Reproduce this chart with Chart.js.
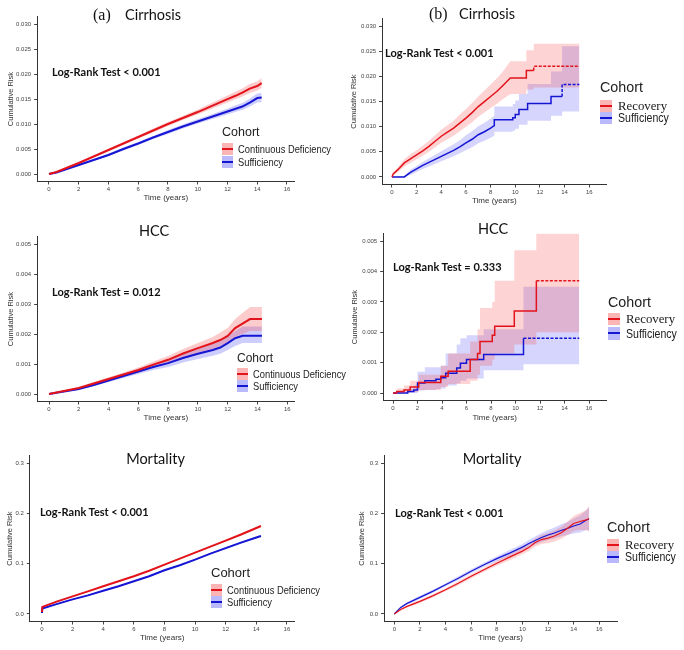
<!DOCTYPE html>
<html>
<head>
<meta charset="utf-8">
<script src="https://cdn.jsdelivr.net/npm/chart.js@4.4.0/dist/chart.umd.min.js"></script>
<style>
body{margin:0;background:#fff;}
#fig{position:relative;width:684px;height:650px;overflow:hidden;font-family:"Liberation Sans",Arial,sans-serif;color:#1a1a1a;}
canvas{position:absolute;}
.t{position:absolute;white-space:nowrap;line-height:1;transform-origin:left center;}
.sw{position:absolute;}
.sw i{position:absolute;left:0;right:0;height:2px;}
</style>
</head>
<body>
<div id="fig"></div>
<script>
// tick labels
const xTicks = [0, 2, 4, 6, 8, 10, 12, 14, 16];
const cirrTicks = [0, 0.005, 0.010, 0.015, 0.020, 0.025, 0.030];
const hccTicks = [0, 0.001, 0.002, 0.003, 0.004, 0.005];
const mortTicks = [0, 0.1, 0.2, 0.3];

// (a) Cirrhosis : Continuous Deficiency vs Sufficiency
const aCirTime = [0, 0.5, 1, 2, 3, 4, 5, 6, 7, 8, 9, 10, 11, 12, 12.5, 13, 13.5, 14, 14.3];
const aCirDef = [0, 0.0004, 0.0010, 0.0022, 0.0035, 0.0048, 0.0061, 0.0074, 0.0087, 0.0100, 0.0112, 0.0124, 0.0137, 0.0150, 0.0156, 0.0163, 0.0171, 0.0176, 0.0182];
const aCirDefLo = [0, 0.0003, 0.0009, 0.0020, 0.0033, 0.0045, 0.0058, 0.0071, 0.0083, 0.0096, 0.0108, 0.0119, 0.0131, 0.0143, 0.0149, 0.0155, 0.0162, 0.0167, 0.0172];
const aCirDefHi = [0, 0.0005, 0.0011, 0.0024, 0.0037, 0.0051, 0.0064, 0.0077, 0.0091, 0.0104, 0.0116, 0.0129, 0.0143, 0.0157, 0.0164, 0.0171, 0.0180, 0.0185, 0.0192];
const aCirSuf = [0, 0.0003, 0.0008, 0.0018, 0.0028, 0.0038, 0.0050, 0.0061, 0.0073, 0.0084, 0.0095, 0.0105, 0.0115, 0.0125, 0.0130, 0.0135, 0.0143, 0.0152, 0.0153];
const aCirSufLo = [0, 0.0002, 0.0007, 0.0016, 0.0026, 0.0036, 0.0047, 0.0058, 0.0070, 0.0080, 0.0091, 0.0101, 0.0110, 0.0119, 0.0124, 0.0128, 0.0135, 0.0143, 0.0144];
const aCirSufHi = [0, 0.0004, 0.0009, 0.0020, 0.0030, 0.0041, 0.0053, 0.0064, 0.0076, 0.0088, 0.0099, 0.0110, 0.0120, 0.0131, 0.0137, 0.0142, 0.0151, 0.0161, 0.0162];

// (a) HCC
const aHccTime = [0, 1, 2, 3, 4, 5, 6, 7, 8, 9, 10, 11, 11.5, 12, 12.5, 13, 13.5, 14, 14.3];
const aHccDef = [0, 0.0001, 0.0002, 0.00035, 0.0005, 0.00065, 0.0008, 0.00098, 0.00114, 0.00135, 0.00153, 0.0017, 0.0018, 0.00194, 0.0022, 0.00235, 0.0025, 0.0025, 0.0025];
const aHccDefLo = [0, 0.00008, 0.00017, 0.0003, 0.00045, 0.00058, 0.00072, 0.00088, 0.00102, 0.0012, 0.00137, 0.0015, 0.0016, 0.0017, 0.0019, 0.002, 0.0021, 0.0021, 0.0021];
const aHccDefHi = [0, 0.00012, 0.00023, 0.0004, 0.00056, 0.00072, 0.00088, 0.00108, 0.00127, 0.0015, 0.0017, 0.0019, 0.00205, 0.0022, 0.0025, 0.0027, 0.0029, 0.0029, 0.0029];
const aHccSuf = [0, 0.00008, 0.00017, 0.0003, 0.00045, 0.0006, 0.00075, 0.0009, 0.00103, 0.0012, 0.00134, 0.00147, 0.00155, 0.0017, 0.00186, 0.00194, 0.00194, 0.00194, 0.00194];
const aHccSufLo = [0, 0.00006, 0.00014, 0.00026, 0.0004, 0.00053, 0.00067, 0.0008, 0.0009, 0.00105, 0.00117, 0.00128, 0.00134, 0.00147, 0.0016, 0.0017, 0.0017, 0.0017, 0.0017];
const aHccSufHi = [0, 0.0001, 0.0002, 0.00034, 0.0005, 0.00067, 0.00083, 0.001, 0.00116, 0.00135, 0.0015, 0.00167, 0.00176, 0.00193, 0.0021, 0.00225, 0.00225, 0.00225, 0.00225];

// (a) Mortality
const aMorTime = [0, 0.02, 1, 2, 3, 4, 5, 6, 7, 8, 9, 10, 11, 12, 13, 14, 14.3];
const aMorDef = [0.004, 0.014, 0.025, 0.035, 0.045, 0.055, 0.065, 0.075, 0.086, 0.098, 0.110, 0.122, 0.134, 0.146, 0.158, 0.171, 0.175];
const aMorDefLo = [0.004, 0.013, 0.024, 0.034, 0.044, 0.054, 0.064, 0.074, 0.085, 0.097, 0.109, 0.121, 0.133, 0.144, 0.156, 0.169, 0.173];
const aMorDefHi = [0.004, 0.015, 0.026, 0.036, 0.046, 0.056, 0.066, 0.076, 0.087, 0.099, 0.111, 0.123, 0.135, 0.148, 0.160, 0.173, 0.177];
const aMorSuf = [0.002, 0.011, 0.020, 0.029, 0.037, 0.046, 0.055, 0.065, 0.075, 0.087, 0.097, 0.108, 0.120, 0.131, 0.142, 0.152, 0.155];
const aMorSufLo = [0.002, 0.010, 0.019, 0.028, 0.036, 0.045, 0.054, 0.064, 0.074, 0.086, 0.096, 0.107, 0.119, 0.129, 0.140, 0.150, 0.153];
const aMorSufHi = [0.002, 0.012, 0.021, 0.030, 0.038, 0.047, 0.056, 0.066, 0.076, 0.088, 0.098, 0.109, 0.121, 0.133, 0.144, 0.154, 0.157];

// (b) Cirrhosis : Recovery vs Sufficiency (repeated times mark the visible jumps)
const bCirRecTime = [0, 0.1, 0.5, 1, 1.5, 2, 2.5, 3, 3.5, 4, 4.5, 5, 5.5, 6, 6.5, 7, 7.5, 8, 8.5, 9, 9.6, 10.9, 10.9, 11.5, 11.5, 15.2];
const bCirRec = [0, 0.0006, 0.0015, 0.0028, 0.0036, 0.0044, 0.0052, 0.0061, 0.0071, 0.0081, 0.0089, 0.0097, 0.0107, 0.0117, 0.0128, 0.0140, 0.0150, 0.0160, 0.0170, 0.0182, 0.0197, 0.0197, 0.0212, 0.0212, 0.0220, 0.0220];
const bCirRecLo = [0, 0.0003, 0.0010, 0.0021, 0.0028, 0.0035, 0.0042, 0.0050, 0.0059, 0.0068, 0.0075, 0.0082, 0.0091, 0.0100, 0.0109, 0.0120, 0.0128, 0.0137, 0.0145, 0.0155, 0.0165, 0.0165, 0.0174, 0.0174, 0.0178, 0.0178];
const bCirRecHi = [0, 0.0009, 0.0020, 0.0035, 0.0045, 0.0053, 0.0062, 0.0072, 0.0083, 0.0094, 0.0103, 0.0112, 0.0124, 0.0135, 0.0147, 0.0160, 0.0172, 0.0184, 0.0196, 0.0210, 0.0230, 0.0230, 0.0252, 0.0252, 0.0265, 0.0265];
const bCirSufTime = [0, 1.0, 1.5, 2, 2.5, 3, 3.5, 4, 4.5, 5, 5.5, 6, 6.5, 7, 7.5, 8, 8.3, 8.3, 9.8, 9.8, 10, 10, 10.3, 10.3, 11, 11, 12.9, 12.9, 13.8, 13.8, 15.2];
const bCirSuf = [0, 0, 0.0009, 0.0016, 0.0023, 0.0029, 0.0035, 0.0041, 0.0047, 0.0053, 0.0060, 0.0068, 0.0075, 0.0084, 0.0090, 0.0097, 0.0102, 0.0114, 0.0114, 0.0118, 0.0118, 0.0124, 0.0124, 0.0134, 0.0134, 0.0146, 0.0146, 0.0160, 0.0160, 0.0184, 0.0184];
const bCirSufLo = [0, 0, 0.0004, 0.0010, 0.0016, 0.0021, 0.0026, 0.0031, 0.0036, 0.0041, 0.0047, 0.0053, 0.0059, 0.0067, 0.0072, 0.0078, 0.0082, 0.0090, 0.0090, 0.0092, 0.0092, 0.0096, 0.0096, 0.0104, 0.0104, 0.0112, 0.0112, 0.0122, 0.0122, 0.0130, 0.0130];
const bCirSufHi = [0, 0.0002, 0.0015, 0.0022, 0.0030, 0.0037, 0.0044, 0.0051, 0.0058, 0.0065, 0.0073, 0.0083, 0.0091, 0.0101, 0.0108, 0.0116, 0.0122, 0.0140, 0.0140, 0.0145, 0.0145, 0.0152, 0.0152, 0.0165, 0.0165, 0.0185, 0.0185, 0.0210, 0.0210, 0.0260, 0.0260];

// (b) HCC (step curves)
const bHccRecTime = [0, 0.3, 0.9, 1.4, 2.1, 3.9, 4.5, 6.3, 6.9, 7.1, 8.1, 8.3, 9.9, 11.7, 15.2];
const bHccRec = [0, 0.00005, 0.0001, 0.0002, 0.00035, 0.00055, 0.00072, 0.0011, 0.0013, 0.0017, 0.0019, 0.0022, 0.0027, 0.0037, 0.0037];
const bHccRecLo = [0, 0, 0, 0.00003, 0.0001, 0.0002, 0.0003, 0.0004, 0.0006, 0.0009, 0.0011, 0.0013, 0.0016, 0.0020, 0.0020];
const bHccRecHi = [0, 0.00015, 0.00025, 0.0004, 0.0006, 0.0009, 0.0013, 0.0017, 0.0021, 0.0028, 0.0030, 0.0037, 0.0047, 0.00525, 0.00525];
const bHccSufTime = [0, 1.2, 1.7, 2.0, 2.6, 3.5, 3.9, 4.3, 5.2, 5.5, 6.0, 7.4, 10.65, 15.2];
const bHccSuf = [0, 0.00005, 0.0001, 0.00033, 0.0004, 0.00045, 0.0005, 0.00065, 0.00082, 0.00098, 0.0011, 0.00127, 0.0018, 0.0018];
const bHccSufLo = [0, 0, 0, 0.00008, 0.0001, 0.00013, 0.00015, 0.00025, 0.00032, 0.0004, 0.00048, 0.00075, 0.00095, 0.00095];
const bHccSufHi = [0, 0.00015, 0.00025, 0.0007, 0.00085, 0.00085, 0.0009, 0.0013, 0.0016, 0.0018, 0.0019, 0.0021, 0.0035, 0.0035];

// (b) Mortality
const bMorTime = [0, 0.5, 1, 1.5, 2, 3, 4, 5, 6, 7, 8, 9, 10, 10.5, 11, 11.5, 12, 12.5, 13, 13.5, 14, 14.5, 15, 15.2];
const bMorRec = [0, 0.009, 0.015, 0.020, 0.025, 0.036, 0.048, 0.061, 0.075, 0.088, 0.101, 0.113, 0.125, 0.132, 0.142, 0.148, 0.151, 0.155, 0.161, 0.170, 0.180, 0.184, 0.187, 0.190];
const bMorRecLo = [0, 0.007, 0.013, 0.017, 0.022, 0.033, 0.045, 0.057, 0.071, 0.084, 0.096, 0.107, 0.119, 0.125, 0.134, 0.139, 0.141, 0.144, 0.149, 0.157, 0.165, 0.167, 0.167, 0.165];
const bMorRecHi = [0, 0.011, 0.017, 0.023, 0.028, 0.039, 0.051, 0.065, 0.079, 0.092, 0.106, 0.119, 0.131, 0.139, 0.150, 0.157, 0.161, 0.166, 0.173, 0.183, 0.195, 0.201, 0.207, 0.215];
const bMorSuf = [0, 0.013, 0.021, 0.027, 0.033, 0.045, 0.058, 0.071, 0.085, 0.098, 0.110, 0.121, 0.133, 0.140, 0.146, 0.152, 0.157, 0.161, 0.166, 0.170, 0.175, 0.179, 0.187, 0.189];
const bMorSufLo = [0, 0.011, 0.019, 0.024, 0.030, 0.042, 0.055, 0.067, 0.081, 0.094, 0.105, 0.115, 0.127, 0.133, 0.138, 0.143, 0.147, 0.150, 0.154, 0.157, 0.160, 0.162, 0.167, 0.165];
const bMorSufHi = [0, 0.015, 0.023, 0.030, 0.036, 0.048, 0.061, 0.075, 0.089, 0.102, 0.115, 0.127, 0.139, 0.147, 0.154, 0.161, 0.167, 0.172, 0.178, 0.183, 0.190, 0.196, 0.207, 0.213];

const RED = '#e3131b', BLUE = '#1515d4';
const RED_BAND = 'rgba(245,70,70,0.28)', BLUE_BAND = 'rgba(80,80,245,0.28)';
const RED_BAND_B = 'rgba(245,70,70,0.24)', BLUE_BAND_B = 'rgba(80,80,245,0.24)';
const SANS = '"Liberation Sans", Arial, sans-serif';
const fig = document.getElementById('fig');

function pts(t, v) {
    return t.map((x, i) => ({x: x, y: v[i]}));
}

// one ggplot-like panel, chart area placed at p.area (page pixels)
function panel(p) {
    const c = document.createElement('canvas');
    const cl = Math.floor(p.area.l - p.yW - 2), ct = Math.floor(p.area.t - 6);
    const cw = Math.ceil(p.area.r + 6) - cl, ch = Math.ceil(p.area.b + p.xH + 2) - ct;
    c.width = cw; c.height = ch;
    c.style.left = cl + 'px'; c.style.top = ct + 'px';
    c.style.width = cw + 'px'; c.style.height = ch + 'px';
    fig.appendChild(c);

    const datasets = [];
    p.series.forEach(s => {
        datasets.push({
            data: pts(s.t, s.v), borderColor: s.line, borderWidth: p.lw,
            pointRadius: 0, fill: false, stepped: p.stepped, order: 0,
            segment: {borderDash: ctx => (s.dashFrom != null && ctx.p0.parsed.x >= s.dashFrom) ? [3, 1.5] : undefined}
        });
    });
    p.series.forEach(s => {
        datasets.push({data: pts(s.t, s.hi), borderWidth: 0, borderColor: 'transparent', pointRadius: 0, fill: false, stepped: p.stepped, order: 1});
        datasets.push({data: pts(s.t, s.lo), borderWidth: 0, borderColor: 'transparent', pointRadius: 0, fill: '-1', backgroundColor: s.band, stepped: p.stepped, order: 1});
    });

    new Chart(c, {
        type: 'line',
        data: {datasets: datasets},
        options: {
            animation: false,
            responsive: false,
            events: [],
            layout: {
                autoPadding: false,
                padding: {left: p.area.l - p.yW - cl, top: p.area.t - ct, right: cl + cw - p.area.r, bottom: ct + ch - p.area.b - p.xH}
            },
            plugins: {legend: {display: false}, tooltip: {enabled: false}},
            scales: {
                x: {
                    type: 'linear', min: p.xmin, max: p.xmax,
                    afterBuildTicks: s => { s.ticks = xTicks.map(v => ({value: v})); },
                    afterFit: s => { s.height = p.xH; },
                    grid: {drawOnChartArea: false, drawTicks: true, tickLength: 3, color: '#444'},
                    border: {display: true, color: '#333', width: 1},
                    ticks: {font: {size: 6, family: SANS}, color: '#444', padding: 1.5, maxRotation: 0, autoSkip: false},
                    title: {display: true, text: 'Time (years)', font: {size: 8, family: SANS}, color: '#333', padding: {top: 0, bottom: 0}}
                },
                y: {
                    type: 'linear', min: p.ymin, max: p.ymax,
                    afterBuildTicks: s => { s.ticks = p.yTicks.map(v => ({value: v})); },
                    afterFit: s => { s.width = p.yW; },
                    grid: {drawOnChartArea: false, drawTicks: true, tickLength: 3, color: '#444'},
                    border: {display: true, color: '#333', width: 1},
                    ticks: {font: {size: 6, family: SANS}, color: '#444', padding: 3, callback: v => v.toFixed(p.dec)},
                    title: {display: true, text: 'Cumulative Risk', font: {size: 7.5, family: SANS}, color: '#333', padding: {top: 4, bottom: 0}}
                }
            }
        }
    });
}

function txt(x, y, s, css, center) {
    const d = document.createElement('div');
    d.className = 't';
    d.textContent = s;
    d.style.cssText = 'left:' + x + 'px;top:' + y + 'px;' + css;
    d.style.transform = center ? 'translate(-50%,-50%)' : 'translateY(-50%)';
    fig.appendChild(d);
    return d;
}

function key(x, y, w, h, band, line) {
    const d = document.createElement('div');
    d.className = 'sw';
    d.style.cssText = 'left:' + x + 'px;top:' + (y - h / 2) + 'px;width:' + w + 'px;height:' + h + 'px;background:' + band;
    const i = document.createElement('i');
    i.style.cssText = 'top:' + (h / 2 - 1) + 'px;background:' + line;
    d.appendChild(i);
    fig.appendChild(d);
}

function label(x, y, s, size, sx, serif) {
    const d = txt(x, y, s, 'font-size:' + size + 'px;' + (serif ? 'font-family:"Liberation Serif",serif;' : ''));
    d.style.transform = 'translateY(-50%) scaleX(' + sx + ')';
}

const TITLE = 'font-family:Lato,"Open Sans",sans-serif;font-size:14.5px;color:#111;';
const TAG = 'font-family:"Liberation Serif",serif;font-size:16px;color:#111;';
const LR = 'font-family:Lato,"Open Sans",sans-serif;font-weight:bold;font-size:11px;color:#111;';

// ---- panels ----
panel({area: {l: 37.1, t: 16.5, r: 294.4, b: 181.5}, yW: 34.5, xH: 21.5, xmin: -0.8, xmax: 16.5,
    ymin: -0.0015, ymax: 0.0315, yTicks: cirrTicks, dec: 3, lw: 2, stepped: false,
    series: [
        {t: aCirTime, v: aCirDef, lo: aCirDefLo, hi: aCirDefHi, line: RED, band: RED_BAND},
        {t: aCirTime, v: aCirSuf, lo: aCirSufLo, hi: aCirSufHi, line: BLUE, band: BLUE_BAND}
    ]});
panel({area: {l: 382.1, t: 18.4, r: 606.5, b: 184.5}, yW: 36.8, xH: 21.5, xmin: -0.8, xmax: 17.4,
    ymin: -0.0015, ymax: 0.0315, yTicks: cirrTicks, dec: 3, lw: 1.5, stepped: false,
    series: [
        {t: bCirRecTime, v: bCirRec, lo: bCirRecLo, hi: bCirRecHi, line: RED, band: RED_BAND_B, dashFrom: 11.5},
        {t: bCirSufTime, v: bCirSuf, lo: bCirSufLo, hi: bCirSufHi, line: BLUE, band: BLUE_BAND_B, dashFrom: 13.8}
    ]});
panel({area: {l: 37.1, t: 236.5, r: 294.7, b: 401.5}, yW: 34.8, xH: 21.5, xmin: -0.8, xmax: 16.5,
    ymin: -0.00025, ymax: 0.00525, yTicks: hccTicks, dec: 3, lw: 2, stepped: false,
    series: [
        {t: aHccTime, v: aHccDef, lo: aHccDefLo, hi: aHccDefHi, line: RED, band: RED_BAND},
        {t: aHccTime, v: aHccSuf, lo: aHccSufLo, hi: aHccSufHi, line: BLUE, band: BLUE_BAND}
    ]});
panel({area: {l: 383.2, t: 233.4, r: 606.2, b: 400.6}, yW: 37, xH: 21.5, xmin: -0.8, xmax: 17.4,
    ymin: -0.00025, ymax: 0.00525, yTicks: hccTicks, dec: 3, lw: 1.5, stepped: true,
    series: [
        {t: bHccRecTime, v: bHccRec, lo: bHccRecLo, hi: bHccRecHi, line: RED, band: RED_BAND_B, dashFrom: 11.7},
        {t: bHccSufTime, v: bHccSuf, lo: bHccSufLo, hi: bHccSufHi, line: BLUE, band: BLUE_BAND_B, dashFrom: 10.65}
    ]});
panel({area: {l: 29.75, t: 455.5, r: 294.6, b: 621.5}, yW: 28.3, xH: 21.5, xmin: -0.8, xmax: 16.5,
    ymin: -0.015, ymax: 0.315, yTicks: mortTicks, dec: 1, lw: 2, stepped: false,
    series: [
        {t: aMorTime, v: aMorDef, lo: aMorDefLo, hi: aMorDefHi, line: RED, band: RED_BAND},
        {t: aMorTime, v: aMorSuf, lo: aMorSufLo, hi: aMorSufHi, line: BLUE, band: BLUE_BAND}
    ]});
panel({area: {l: 384.05, t: 455.5, r: 617.2, b: 621.5}, yW: 30.5, xH: 21.5, xmin: -0.8, xmax: 17.4,
    ymin: -0.015, ymax: 0.315, yTicks: mortTicks, dec: 1, lw: 1.2, stepped: false,
    series: [
        {t: bMorTime, v: bMorRec, lo: bMorRecLo, hi: bMorRecHi, line: RED, band: RED_BAND_B},
        {t: bMorTime, v: bMorSuf, lo: bMorSufLo, hi: bMorSufHi, line: BLUE, band: BLUE_BAND_B}
    ]});

// ---- titles ----
txt(93, 15, '(a)', TAG);
txt(125, 15, 'Cirrhosis', TITLE);
txt(429, 14, '(b)', TAG);
txt(459, 14, 'Cirrhosis', TITLE);
txt(154, 231, 'HCC', TITLE, true);
txt(493, 229, 'HCC', TITLE, true);
txt(155.5, 459, 'Mortality', TITLE, true);
txt(492, 459, 'Mortality', TITLE, true);

// ---- log-rank notes ----
txt(52, 71, 'Log-Rank Test < 0.001', LR);
txt(385, 52, 'Log-Rank Test < 0.001', LR);
txt(52, 291, 'Log-Rank Test = 0.012', LR);
txt(393, 266, 'Log-Rank Test = 0.333', LR);
txt(40, 511, 'Log-Rank Test < 0.001', LR);
txt(395, 512, 'Log-Rank Test < 0.001', LR);

// ---- legends ----
const KEY_RED = 'rgba(245,70,70,0.4)', KEY_BLUE = 'rgba(80,80,245,0.4)';
// (a) panels
[[222, 131.7, 12.5, 149.3, 162.3], [237, 357.7, 12, 374.3, 385.7], [211, 571.7, 13, 590, 601.7]].forEach(g => {
    txt(g[0], g[1], 'Cohort', 'font-size:' + g[2] + 'px;color:#222;');
    key(g[0], g[3], 11, 12, KEY_RED, RED);
    key(g[0], g[4], 11, 12, KEY_BLUE, BLUE);
    label(g[0] + 16, g[3], 'Continuous Deficiency', 11, 0.85, false);
    label(g[0] + 16, g[4], 'Sufficiency', 11, 0.85, false);
});
// (b) panels
[[600, 87.3, 106, 118.3], [608, 301.7, 319, 333.5], [607, 526.7, 545, 557.3]].forEach(g => {
    txt(g[0], g[1], 'Cohort', 'font-size:14.3px;color:#222;');
    key(g[0], g[2], 12, 12.3, KEY_RED, RED);
    key(g[0], g[3], 12, 12.3, KEY_BLUE, BLUE);
    label(g[0] + 18, g[2], 'Recovery', 12.8, 1, true);
    label(g[0] + 18, g[3], 'Sufficiency', 12, 0.88, false);
});
</script>
</body>
</html>
